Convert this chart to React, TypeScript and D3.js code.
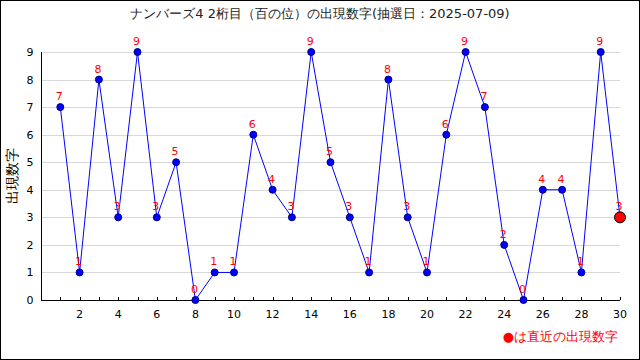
import React from "react";
import * as d3 from "d3";

const draws = [1,2,3,4,5,6,7,8,9,10,11,12,13,14,15,16,17,18,19,20,21,22,23,24,25,26,27,28,29,30];
const digits = [7,1,8,3,9,3,5,0,1,1,6,4,3,9,5,3,1,8,3,1,6,9,7,2,0,4,4,1,9,3];
const yTicks = [0,1,2,3,4,5,6,7,8,9];
const xLabelTicks = [2,4,6,8,10,12,14,16,18,20,22,24,26,28,30];
const title = "ナンバーズ4 2桁目（百の位）の出現数字(抽選日：2025-07-09)";
const yTitle = "出現数字";
const legendText = "●は直近の出現数字";

export default function App() {
  const W = 640, H = 360;
  const x = d3.scaleLinear().domain([0, 30]).range([41, 620]);
  const y = d3.scaleLinear().domain([0, 9]).range([300, 52]);
  const line = d3.line<number>().x((_, i) => x(draws[i])).y((d) => y(d));
  const font = "'DejaVu Sans', sans-serif";
  const xTicks = d3.range(0, 31);
  return (
    <svg width={W} height={H} style={{ position: "absolute", left: 0, top: 0 }} fontFamily={font}>
      <rect x={0.5} y={0.5} width={W - 1} height={H - 1} fill="#fff" stroke="#000" />
      <text x={320} y={18} textAnchor="middle" fontSize={13} fill="#222">{title}</text>
      {yTicks.map((t) => (
        <g key={t}>
          {t > 0 && <line x1={41} x2={620} y1={Math.round(y(t)) + 0.5} y2={Math.round(y(t)) + 0.5} stroke="#d8d8d8" />}
          <text x={30} y={y(t) + 4} textAnchor="middle" fontSize={11} fill="#000">{t}</text>
        </g>
      ))}
      <line x1={41.5} x2={41.5} y1={52} y2={300} stroke="#000" />
      <line x1={41} x2={620} y1={300.5} y2={300.5} stroke="#000" />
      {xTicks.map((t) => (
        <line key={t} x1={Math.round(x(t)) + 0.5} x2={Math.round(x(t)) + 0.5} y1={297} y2={300} stroke="#000" />
      ))}
      {xLabelTicks.map((t) => (
        <text key={t} x={x(t)} y={318} textAnchor="middle" fontSize={11} fill="#000">{t}</text>
      ))}
      <text transform={`translate(17,176) rotate(-90)`} textAnchor="middle" fontSize={14} fill="#000">{yTitle}</text>
      <path d={line(digits) || ""} fill="none" stroke="#0000ff" strokeWidth={1} />
      {digits.map((d, i) => {
        const last = i === digits.length - 1;
        return (
          <circle key={i} cx={x(draws[i])} cy={y(d)} r={last ? 5.5 : 3.5}
            fill={last ? "#ff0000" : "#0000ff"} stroke={last ? "#000" : "#000080"} strokeWidth={1} />
        );
      })}
      {digits.map((d, i) => (
        <text key={"l" + i} x={x(draws[i]) - 1} y={y(d) - 7} textAnchor="middle" fontSize={11} fill="#ff0000">{d}</text>
      ))}
      <text x={618} y={341} textAnchor="end" fontSize={13} fill="#ff0000">{legendText}</text>
    </svg>
  );
}
